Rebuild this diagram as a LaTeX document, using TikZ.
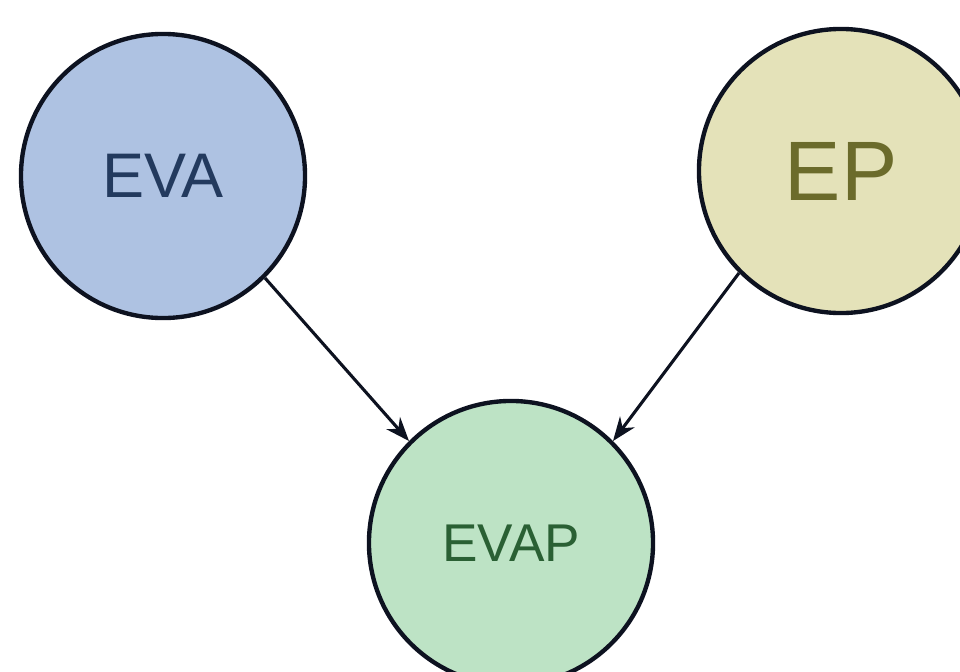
\documentclass[tikz,border=0pt]{standalone}
\usepackage{fontspec}
\setmainfont{Liberation Sans}
\usetikzlibrary{arrows.meta}
\definecolor{evafill}{HTML}{AEC2E2}
\definecolor{evatext}{HTML}{233A5E}
\definecolor{epfill}{HTML}{E4E2B9}
\definecolor{eptext}{HTML}{6B6B2B}
\definecolor{evapfill}{HTML}{BDE3C5}
\definecolor{evaptext}{HTML}{2A6034}
\definecolor{rim}{HTML}{0D1220}
\begin{document}
\begin{tikzpicture}[
    x=0.025cm, y=-0.025cm,
    blob/.style={circle, draw=rim, line width=3.1pt, minimum size=7.1cm, inner sep=0pt},
    evanode/.style={blob, fill=evafill, text=evatext, font=\fontsize{44.8}{54}\selectfont},
    epnode/.style={blob, fill=epfill, text=eptext, font=\fontsize{60}{72}\selectfont},
    evapnode/.style={blob, fill=evapfill, text=evaptext, font=\fontsize{37.8}{46}\selectfont},
    arrow/.style={-{Stealth[length=17pt,width=13pt]}, draw=rim, line width=2.2pt}
  ]
  \useasboundingbox (0,0) rectangle (960,671);
  \begin{scope}
  \clip (0,0) rectangle (960,671);

  % the three circles
  \node[evanode] (eva) at (163,176) {EVA};
  \node[epnode] (ep) at (841,171) {EP};
  \node[evapnode] (evap) at (511,543) {EVAP};

  % arrows into EVAP, leaving and entering at 45 degrees
  \draw[arrow] (eva.-45) -- (evap.135);
  \draw[arrow] (ep.-135) -- (evap.45);
  \end{scope}
\end{tikzpicture}
\end{document}
